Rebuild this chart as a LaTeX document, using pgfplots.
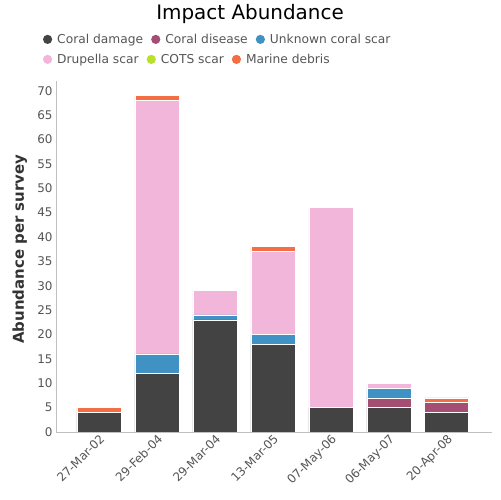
\documentclass[border=0pt]{standalone}
\usepackage{fontspec}
\setmainfont{DejaVu Sans}
\usepackage{pgfplots}
\pgfplotsset{compat=1.18}
\definecolor{cdam}{HTML}{434343}
\definecolor{cdis}{HTML}{A44E74}
\definecolor{cunk}{HTML}{4192C4}
\definecolor{cdru}{HTML}{F1B6DA}
\definecolor{ccot}{HTML}{B8E12A}
\definecolor{cdeb}{HTML}{F46D43}
\definecolor{txt}{HTML}{555555}
\definecolor{axl}{HTML}{C0C0C0}
\pgfplotsset{
  mylegend/.style={
    legend columns=-1,
    legend cell align=left,
    legend style={draw=none, fill=none, anchor=north west, inner sep=0pt, outer sep=0pt,
      font=\fontsize{12.3}{14}\selectfont, text=txt,
      /tikz/every even column/.append style={column sep=6bp},
      /tikz/every odd column/.append style={column sep=3bp}},
    legend image code/.code={\path[fill=##1,draw=none] (4.5bp,0) circle (4.6bp);},
  }
}
\begin{document}
\begin{tikzpicture}[x=1bp,y=1bp]
\path[use as bounding box] (0,0) rectangle (500,500);
\begin{axis}[
  at={(56bp,68bp)}, anchor=south west,
  scale only axis, width=436bp, height=351bp,
  ybar stacked, bar width=44bp,
  xmin=-0.74, xmax=6.78, ymin=0, ymax=72,
  xtick={0,...,6},
  xticklabels={27-Mar-02,29-Feb-04,29-Mar-04,13-Mar-05,07-May-06,06-May-07,20-Apr-08},
  x tick label style={rotate=45, anchor=north east, font=\fontsize{12}{14}\selectfont, text=txt, inner sep=1pt},
  ytick={0,5,...,70},
  y tick label style={font=\fontsize{12}{14}\selectfont, text=txt},
  /pgf/number format/assume math mode=true,
  axis x line*=bottom, axis y line*=left,
  axis line style={draw=axl, -},
  tick style={draw=none},
  major tick length=0pt,
  ylabel={\textbf{Abundance per survey}},
  ylabel style={font=\fontsize{15}{17}\selectfont, text=black!80, at={(axis description cs:-0.083,0.521)}, anchor=center, rotate=0},
  title={Impact Abundance},
  title style={font=\fontsize{20}{22}\selectfont, at={(axis description cs:0.445,1.157)}, anchor=base},
  mylegend,
  legend style={at={(axis description cs:-0.0298,1.1396)}},
  legend entries={Coral damage,Coral disease,Unknown coral scar},
  every axis plot/.append style={draw=white, line width=0.6pt},
]
\addplot+[fill=cdam, draw=white] coordinates {(0,4) (1,12) (2,23) (3,18) (4,5) (5,5) (6,4)};
\addplot+[fill=cdis, draw=white] coordinates {(0,0) (1,0) (2,0) (3,0) (4,0) (5,2) (6,2)};
\addplot+[fill=cunk, draw=white] coordinates {(0,0) (1,4) (2,1) (3,2) (4,0) (5,2) (6,0)};
\addplot+[fill=cdru, draw=white] coordinates {(0,0) (1,52) (2,5) (3,17) (4,41) (5,1) (6,0)};
\addplot+[fill=ccot, draw=white] coordinates {(0,0) (1,0) (2,0) (3,0) (4,0) (5,0) (6,0)};
\addplot+[fill=cdeb, draw=white] coordinates {(0,1) (1,1) (2,0) (3,1) (4,0) (5,0) (6,1)};
\end{axis}
\begin{axis}[
  at={(56bp,68bp)}, anchor=south west,
  scale only axis, width=436bp, height=351bp,
  hide axis, xmin=0, xmax=1, ymin=0, ymax=1,
  mylegend,
  legend style={at={(axis description cs:-0.0298,1.0826)}},
]
\addlegendimage{cdru}
\addlegendentry{Drupella scar}
\addlegendimage{ccot}
\addlegendentry{COTS scar}
\addlegendimage{cdeb}
\addlegendentry{Marine debris}
\end{axis}
\end{tikzpicture}
\end{document}
